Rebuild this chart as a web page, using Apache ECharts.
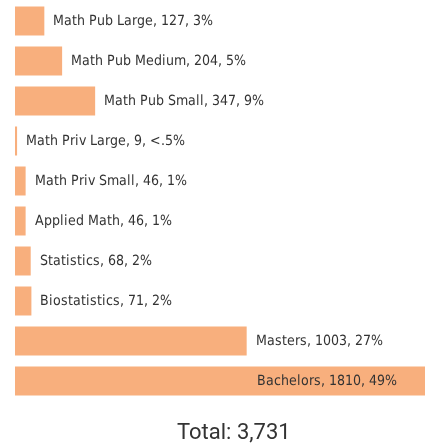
<!DOCTYPE html>
<html>
<head>
<meta charset="utf-8">
<script src="https://cdn.jsdelivr.net/npm/echarts@6/dist/echarts.min.js"></script>
<style>
  html, body { margin: 0; padding: 0; background: #fff; }
  #chart { width: 425px; height: 445px; }
  @font-face {
    font-family: "LabelNarrow";
    src: local("Liberation Sans Narrow"), local("LiberationSansNarrow-Regular"),
         local("DejaVu Sans Condensed"), local("DejaVuSansCondensed");
  }
</style>
</head>
<body>
<div id="chart"></div>
<script>
// categories, top to bottom
var categories = [
  "Math Pub Large", "Math Pub Medium", "Math Pub Small", "Math Priv Large",
  "Math Priv Small", "Applied Math", "Statistics", "Biostatistics",
  "Masters", "Bachelors"
];
var counts = [127, 204, 347, 9, 46, 46, 68, 71, 1003, 1810];
var percents = ["3%", "5%", "9%", "<.5%", "1%", "1%", "2%", "2%", "27%", "49%"];

var total = counts.reduce(function (a, b) { return a + b; }, 0);

function draw() {
  var myChart = echarts.init(document.getElementById("chart"));
  var labelFont = "LabelNarrow, sans-serif";

  var option = {
    animation: false,
    title: {
      text: "Total: " + total.toLocaleString("en-US"),
      left: 172,
      top: 417,
      textStyle: {
        fontFamily: "Roboto, sans-serif",
        fontWeight: "normal",
        fontSize: 22,
        color: "#333"
      }
    },
    grid: {
      left: 15,
      right: 0,
      top: 1,
      height: 400
    },
    xAxis: {
      type: "value",
      min: 0,
      max: 1775,
      show: false
    },
    yAxis: {
      type: "category",
      data: categories,
      inverse: true,
      show: false
    },
    series: [
      {
        type: "bar",
        barWidth: 29,
        data: counts.map(function (v, i) {
          var item = { value: v };
          // the last bar runs off the edge, so its label sits inside
          if (i === counts.length - 1) {
            item.label = { position: "insideRight", distance: 28 };
          }
          return item;
        }),
        itemStyle: {
          color: "#f8af7d"
        },
        label: {
          show: true,
          position: "right",
          distance: 9,
          fontFamily: labelFont,
          fontSize: 14,
          color: "#333",
          formatter: function (p) {
            return categories[p.dataIndex] + ", " + counts[p.dataIndex] + ", " + percents[p.dataIndex];
          }
        }
      }
    ]
  };
  myChart.setOption(option);
}

document.fonts.load("14px LabelNarrow").then(draw, draw);
</script>
</body>
</html>
